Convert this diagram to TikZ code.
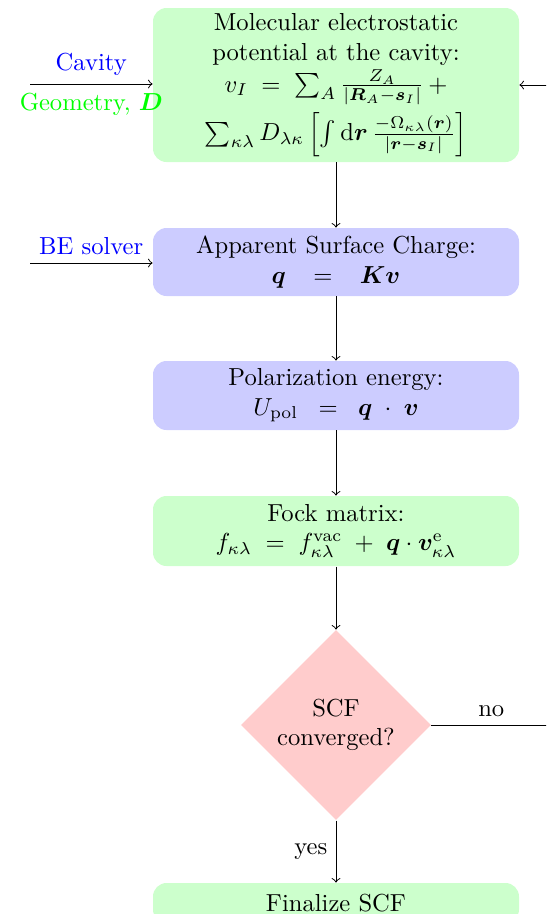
\documentclass[tikz,border=0pt]{standalone}
\usepackage{amsmath}
\usepackage{bm}
\usetikzlibrary{shapes.geometric,arrows}
\begin{document}
\begin{tikzpicture}[x=0.4065pt,y=-0.4065pt,
  boxbase/.style={rectangle, rounded corners=5.5pt, align=center,
    minimum width=366*0.4065pt, inner sep=2pt},
  greenbox/.style={boxbase, fill=green!20},
  bluebox/.style={boxbase, fill=blue!20},
  decide/.style={diamond, aspect=1, fill=red!20, align=center,
    minimum width=190*0.4065pt, minimum height=190*0.4065pt, inner sep=0pt},
  conn/.style={draw, ->, >=to}]
\useasboundingbox (0,0) rectangle (546,914);
\clip (0,0) rectangle (546,914);

\node[greenbox, minimum height=154*0.4065pt] (pot) at (336,85)
  {Molecular electrostatic\\ potential at the cavity:\\[1pt]
   $v_I \;=\; \sum_A \frac{Z_A}{|\bm{R}_A-\bm{s}_I|}\,+$\\[2pt]
   $\sum_{\kappa\lambda} D_{\lambda\kappa}\left[\int \mathrm{d}\bm{r}\,\frac{-\Omega_{\kappa\lambda}(\bm{r})}{|\bm{r}-\bm{s}_I|}\right]$};
\node[bluebox, minimum height=68*0.4065pt] (asc) at (336,262)
  {Apparent Surface Charge:\\ $\bm{q}\;\;\;=\;\;\;\bm{K}\bm{v}$};
\node[bluebox, minimum height=69*0.4065pt] (pol) at (336,395.5)
  {Polarization energy:\\ $U_{\text{pol}}\;\;=\;\;\bm{q}\;\cdot\;\bm{v}$};
\node[greenbox, minimum height=70*0.4065pt] (fock) at (336,531)
  {Fock matrix:\\ $f_{\kappa\lambda}\;=\;f^{\text{vac}}_{\kappa\lambda}\;+\;\bm{q}\cdot\bm{v}^{\text{e}}_{\kappa\lambda}$};
\node[decide] (conv) at (336,725) {SCF\\ converged?};
\node[greenbox, minimum height=40*0.4065pt] (fin) at (336,903) {Finalize SCF};

\coordinate (cavin) at (30,84);
\coordinate (bein) at (30,263);
\coordinate (noturn) at (551,725);

\path[conn] (cavin) -- node[midway, above, text=blue] {Cavity}
  node[midway, below, text=green] {Geometry, $\bm{D}$} (cavin -| pot.west);
\path[conn] (bein) -- node[midway, above, text=blue] {BE solver} (bein -| asc.west);
\path[conn] (pot) -- (asc);
\path[conn] (asc) -- (pol);
\path[conn] (pol) -- (fock);
\path[conn] (fock) -- (conv);
\path[conn] (conv) -- node[midway, left] {yes} (fin);
\path[conn] (conv.east) -- node[midway, above] {no} (noturn) |- (pot.east);
\end{tikzpicture}
\end{document}
